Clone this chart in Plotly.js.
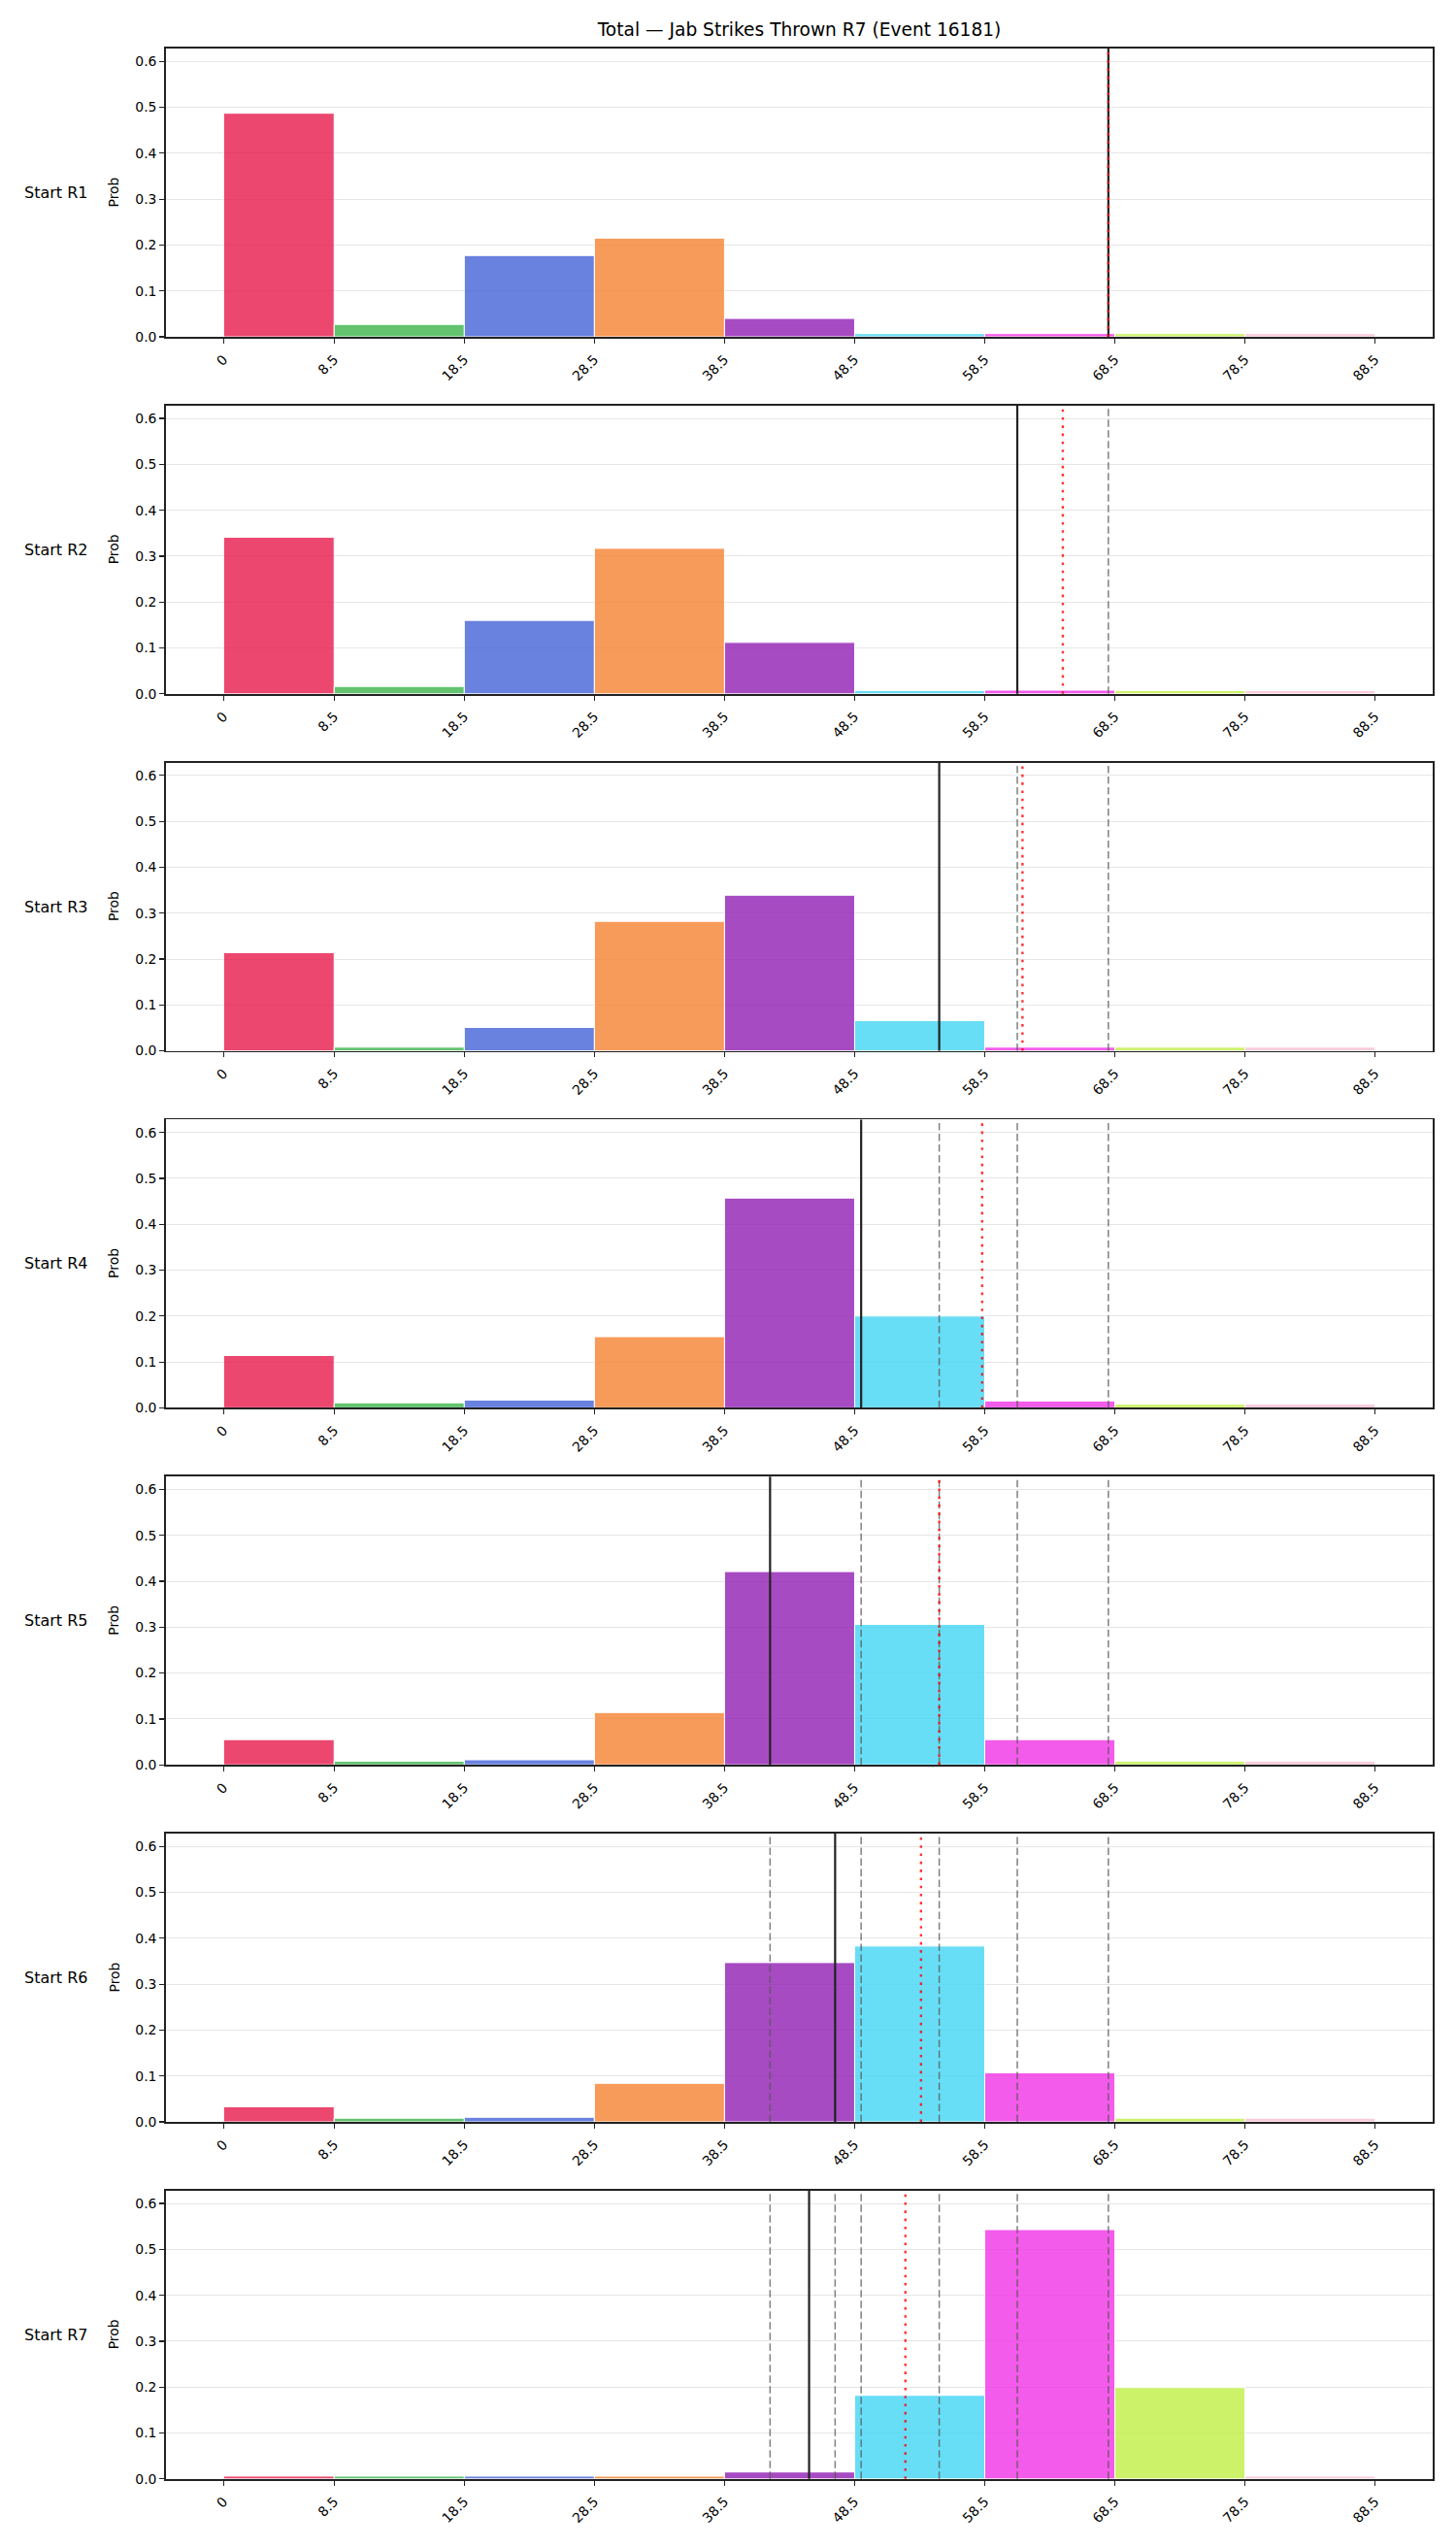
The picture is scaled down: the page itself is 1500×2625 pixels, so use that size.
<!DOCTYPE html>
<html>
<head>
<meta charset="utf-8">
<script src="https://cdn.plot.ly/plotly-3.0.1.min.js"></script>
<style>
  html, body { margin: 0; padding: 0; background: #ffffff; }
  #chart { width: 1500px; height: 2625px; }
</style>
</head>
<body>
<div id="chart"></div>
<script>
// Histogram bins (strike counts) and their tick labels
const binEdges = [0, 8.5, 18.5, 28.5, 38.5, 48.5, 58.5, 68.5, 78.5, 88.5];
const tickLabels = ['0', '8.5', '18.5', '28.5', '38.5', '48.5', '58.5', '68.5', '78.5', '88.5'];
const binColors = ['#e6194b', '#3cb44b', '#4363d8', '#f58231', '#911eb4', '#42d4f4', '#f032e6', '#bfef45', '#fabed4'];

const rowLabels = ['Start R1', 'Start R2', 'Start R3', 'Start R4', 'Start R5', 'Start R6', 'Start R7'];

// Probability of each bin, by starting round
const probR1 = [0.487, 0.027, 0.177, 0.215, 0.040, 0.007, 0.007, 0.007, 0.007];
const probR2 = [0.341, 0.016, 0.160, 0.317, 0.112, 0.007, 0.008, 0.007, 0.007];
const probR3 = [0.214, 0.008, 0.051, 0.282, 0.339, 0.066, 0.008, 0.008, 0.008];
const probR4 = [0.114, 0.011, 0.017, 0.155, 0.457, 0.200, 0.015, 0.008, 0.008];
const probR5 = [0.055, 0.008, 0.011, 0.114, 0.421, 0.306, 0.055, 0.008, 0.008];
const probR6 = [0.033, 0.008, 0.010, 0.084, 0.347, 0.383, 0.107, 0.008, 0.008];
const probR7 = [0.006, 0.006, 0.006, 0.006, 0.015, 0.182, 0.543, 0.199, 0.006];
const probRows = [probR1, probR2, probR3, probR4, probR5, probR6, probR7];

// Betting line at each start round (solid), and projected total (dotted)
const lineAt = [68.0, 61.0, 55.0, 49.0, 42.0, 47.0, 45.0];
const projAt = [68.0, 64.5, 61.4, 58.3, 55.0, 53.6, 52.4];

const W = 1500, H = 2625;
const FONT = 'DejaVu Sans, Liberation Sans, sans-serif';
const plotLeft = 171, plotRight = 1476;
const firstTop = 50, rowPitch = 367.8, plotH = 297;
const xRange = [-4.425, 92.925];
const yRange = [0, 0.628];

function rgba(hex, a) {
  const n = parseInt(hex.slice(1), 16);
  return 'rgba(' + ((n >> 16) & 255) + ',' + ((n >> 8) & 255) + ',' + (n & 255) + ',' + a + ')';
}

const centers = [], widths = [];
for (let i = 0; i < binEdges.length - 1; i++) {
  centers.push((binEdges[i] + binEdges[i + 1]) / 2);
  widths.push(binEdges[i + 1] - binEdges[i]);
}
const fillColors = binColors.map(c => rgba(c, 0.8));

const data = [];
const layout = {
  width: W, height: H,
  margin: { l: 0, r: 0, t: 0, b: 0 },
  paper_bgcolor: '#ffffff',
  plot_bgcolor: '#ffffff',
  showlegend: false,
  hovermode: false,
  font: { family: FONT, size: 14, color: '#000000' },
  title: {
    text: 'Total — Jab Strikes Thrown R7 (Event 16181)',
    x: ((plotLeft + plotRight) / 2) / W, xref: 'paper', xanchor: 'center',
    y: 1 - 30 / H, yref: 'paper', yanchor: 'middle',
    font: { family: FONT, size: 18.6, color: '#000000' }
  },
  shapes: [],
  annotations: []
};

probRows.forEach((probs, k) => {
  const suf = k === 0 ? '' : String(k + 1);
  const top = firstTop + rowPitch * k;
  const bottom = top + plotH;
  const yDom = [1 - bottom / H, 1 - top / H];

  data.push({
    type: 'bar',
    x: centers,
    y: probs,
    width: widths,
    xaxis: 'x' + suf,
    yaxis: 'y' + suf,
    marker: { color: fillColors, line: { color: '#ffffff', width: 1 } },
    hoverinfo: 'skip'
  });

  layout['xaxis' + suf] = {
    domain: [plotLeft / W, plotRight / W],
    anchor: 'y' + suf,
    range: xRange,
    tickmode: 'array',
    tickvals: binEdges,
    ticktext: tickLabels,
    tickangle: -45,
    ticks: 'outside', ticklen: 5, tickwidth: 1.2, tickcolor: '#222222',
    ticklabelstandoff: 3,
    showline: true, linecolor: '#222222', linewidth: 1.8, mirror: true,
    showgrid: false, zeroline: false,
    tickfont: { family: FONT, size: 13.9, color: '#000000' },
    fixedrange: true
  };
  layout['yaxis' + suf] = {
    domain: yDom,
    anchor: 'x' + suf,
    range: yRange,
    tickmode: 'array',
    tickvals: [0, 0.1, 0.2, 0.3, 0.4, 0.5, 0.6],
    tickformat: '.1f',
    ticks: 'outside', ticklen: 5, tickwidth: 1.2, tickcolor: '#222222',
    showline: true, linecolor: '#222222', linewidth: 1.8, mirror: true,
    showgrid: true, gridcolor: '#e6e6e6', gridwidth: 1,
    zeroline: false,
    tickfont: { family: FONT, size: 13.9, color: '#000000' },
    fixedrange: true
  };

  // lines from earlier start rounds
  for (let j = 0; j < k; j++) {
    layout.shapes.push({
      type: 'line', xref: 'x' + suf, yref: 'y' + suf + ' domain',
      x0: lineAt[j], x1: lineAt[j], y0: 0, y1: 1,
      line: { color: 'rgba(85,85,85,0.75)', width: 1.5, dash: '7.5px,3.5px' }
    });
  }
  // line at this start round
  layout.shapes.push({
    type: 'line', xref: 'x' + suf, yref: 'y' + suf + ' domain',
    x0: lineAt[k], x1: lineAt[k], y0: 0, y1: 1,
    line: { color: '#222222', width: 2.2 }
  });
  // projected total
  layout.shapes.push({
    type: 'line', xref: 'x' + suf, yref: 'y' + suf + ' domain',
    x0: projAt[k], x1: projAt[k], y0: 0, y1: 1,
    line: { color: 'rgba(255,0,0,0.8)', width: 2.4, dash: '2.6px,5.7px' }
  });

  const midY = 1 - (top + plotH / 2) / H;
  layout.annotations.push({
    text: rowLabels[k], xref: 'paper', yref: 'paper',
    x: 23 / W, y: midY, xanchor: 'left', yanchor: 'middle',
    showarrow: false, font: { family: FONT, size: 16, color: '#000000' }
  });
  layout.annotations.push({
    text: 'Prob', xref: 'paper', yref: 'paper',
    x: 117 / W, y: midY, xanchor: 'center', yanchor: 'middle',
    textangle: -90,
    showarrow: false, font: { family: FONT, size: 13.9, color: '#000000' }
  });
});

Plotly.newPlot('chart', data, layout, { displayModeBar: false, staticPlot: true });
</script>
</body>
</html>
